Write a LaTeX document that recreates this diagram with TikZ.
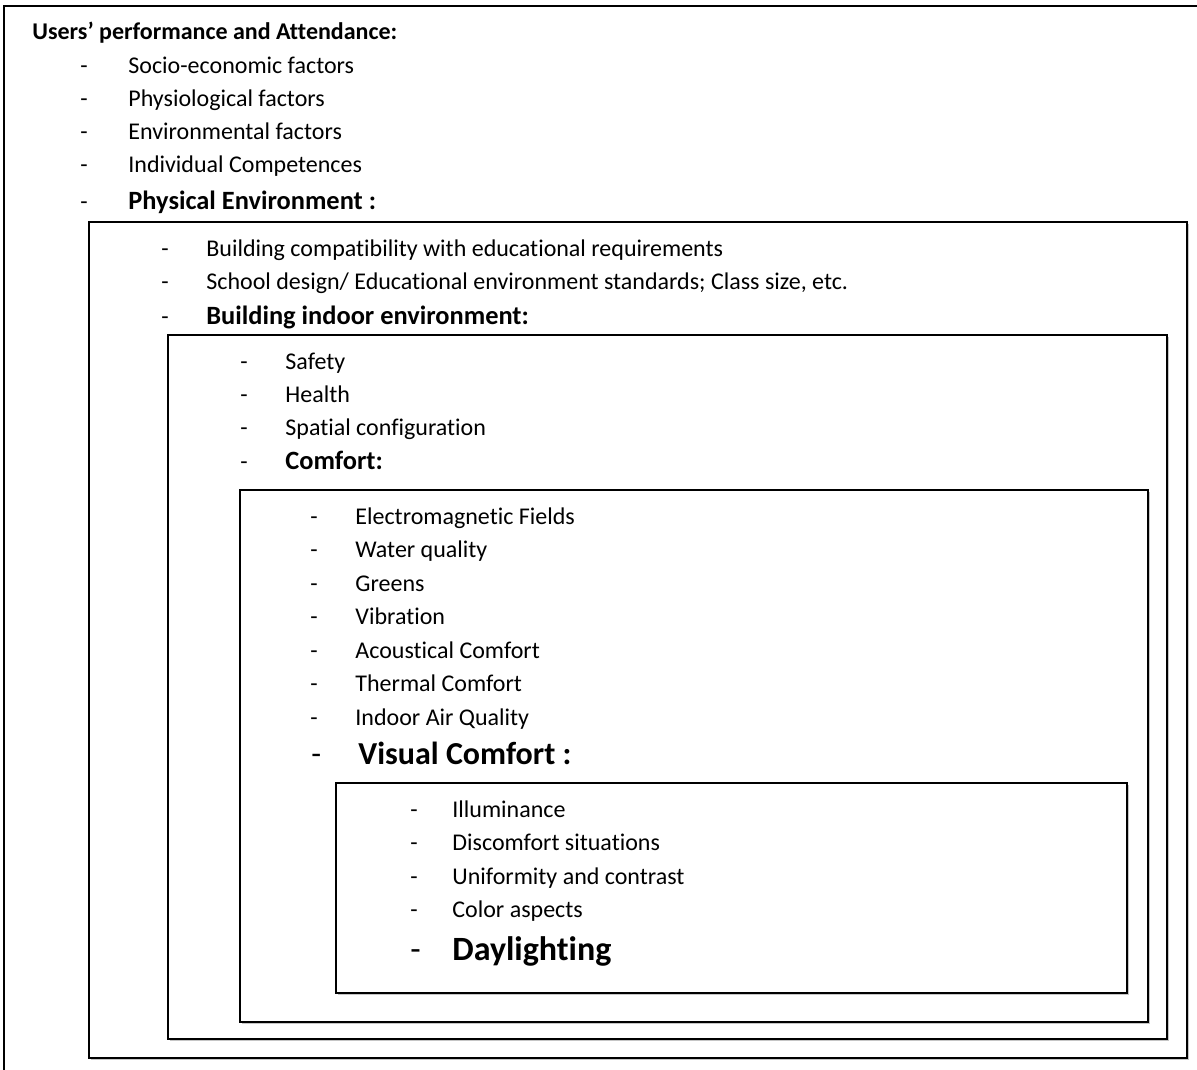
\documentclass[tikz,border=0pt]{standalone}
\usepackage{fontspec}
\setmainfont{Carlito}[Ligatures = {NoCommon, TeX}]
\usetikzlibrary{
    shadows
}
\tikzset {
    box/.style = {draw, line width = 1pt, fill = white,
        drop shadow = {shadow xshift = 0.9pt, shadow yshift = -0.9pt, opacity = 0.45}},
    page box/.style = {draw, line width = 1.1pt},
    item/.style = {anchor = base west, inner sep = 0pt, font = \fontsize{12}{14}\selectfont},
    bullet/.style = {item},
    head/.style = {item, font = \bfseries\fontsize{13.2}{15}\selectfont},
}
\begin{document}
\begin{tikzpicture}[x = 0.5pt, y = -0.5pt]
    \useasboundingbox (0, 0) rectangle (1197, 1069);
    \clip (0, 0) rectangle (1197, 1069);
    % nested frames
    \coordinate (page nw) at (4, 6);
    \coordinate (page se) at (1215, 1090);
    \coordinate (phys nw) at (89, 222);
    \coordinate (phys se) at (1187, 1058);
    \coordinate (indoor nw) at (168, 335);
    \coordinate (indoor se) at (1167, 1039);
    \coordinate (comfort nw) at (240, 490);
    \coordinate (comfort se) at (1148, 1022);
    \coordinate (visual nw) at (336, 783);
    \coordinate (visual se) at (1127, 993);
    \draw [page box] (page nw) rectangle (page se);
    \draw [box] (phys nw) rectangle (phys se);
    \draw [box] (indoor nw) rectangle (indoor se);
    \draw [box] (comfort nw) rectangle (comfort se);
    \draw [box] (visual nw) rectangle (visual se);
    % users
    \node (users) [head, font = \bfseries\fontsize{12}{14}\selectfont] at (32, 40) {Users’ performance and Attendance:};
    \foreach \t [count = \i] in {Socio-economic factors, Physiological factors,
        Environmental factors, Individual Competences} {
        \node (user bullet \i) [bullet] at (80, 41 + 33*\i) {-};
        \node (user \i) [item] at (128, 41 + 33*\i) {\t};
    }
    \node (phys bullet) [bullet] at (80, 210) {-};
    \node (phys) [head] at (128, 210) {Physical Environment :};
    % physical environment
    \foreach \t [count = \i] in {Building compatibility with educational requirements,
        {School design/ Educational environment standards; Class size, etc.}} {
        \node (phys bullet \i) [bullet] at (161, 224 + 33*\i) {-};
        \node (phys \i) [item] at (206, 224 + 33*\i) {\t};
    }
    \node (indoor bullet) [bullet] at (161, 324) {-};
    \node (indoor) [head] at (206, 324) {Building indoor environment:};
    % indoor environment
    \foreach \t [count = \i] in {Safety, Health, Spatial configuration} {
        \node (indoor bullet \i) [bullet] at (240, 336 + 33*\i) {-};
        \node (indoor \i) [item] at (285, 336 + 33*\i) {\t};
    }
    \node (comfort bullet) [bullet] at (240, 469) {-};
    \node (comfort) [head] at (285, 469) {Comfort:};
    % comfort
    \foreach \t [count = \i] in {Electromagnetic Fields, Water quality, Greens, Vibration,
        Acoustical Comfort, Thermal Comfort, Indoor Air Quality} {
        \node (comfort bullet \i) [bullet] at (310, 490.5 + 33.5*\i) {-};
        \node (comfort \i) [item] at (355, 490.5 + 33.5*\i) {\t};
    }
    \node (visual bullet) [bullet, font = \fontsize{16}{18}\selectfont] at (311, 764) {-};
    \node (visual) [head, font = \bfseries\fontsize{16}{18}\selectfont] at (358, 764) {Visual Comfort :};
    % visual comfort
    \foreach \t [count = \i] in {Illuminance, Discomfort situations, Uniformity and contrast, Color aspects} {
        \node (visual bullet \i) [bullet] at (410, 783.5 + 33.5*\i) {-};
        \node (visual \i) [item] at (452, 783.5 + 33.5*\i) {\t};
    }
    \node (day bullet) [bullet, font = \fontsize{17}{19}\selectfont] at (410, 960) {-};
    \node (day) [head, font = \bfseries\fontsize{17}{19}\selectfont] at (452, 960) {Daylighting};
\end{tikzpicture}
\end{document}
